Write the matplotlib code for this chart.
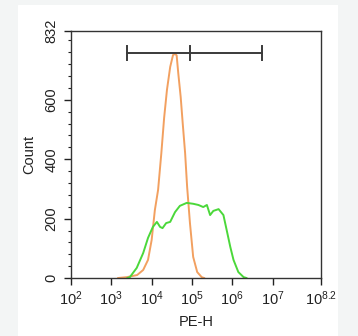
import matplotlib
matplotlib.use("Agg")
import matplotlib.pyplot as plt
import numpy as np
from matplotlib.ticker import FixedLocator, MultipleLocator, LogLocator, NullFormatter

plt.rcParams['font.family'] = ['Liberation Sans', 'DejaVu Sans']
plt.rcParams['mathtext.fontset'] = 'custom'
plt.rcParams['mathtext.rm'] = 'Liberation Sans'
plt.rcParams['mathtext.it'] = 'Liberation Sans'
plt.rcParams['mathtext.default'] = 'rm'

# log10(PE-H) positions and counts
orange_logx = [3.17, 3.39, 3.64, 3.79, 3.91, 4.00, 4.08, 4.16, 4.24, 4.31, 4.38, 4.46,
               4.53, 4.58, 4.62, 4.66, 4.72, 4.77, 4.83, 4.88, 4.95, 5.03, 5.13, 5.24, 5.30]
orange_count = [0, 3, 10, 27, 61, 128, 229, 297, 420, 540, 634, 711,
                751, 755, 750, 690, 610, 522, 421, 307, 185, 71, 20, 3, 0]

green_logx = [3.40, 3.46, 3.63, 3.79, 3.91, 4.03, 4.13, 4.21, 4.27, 4.36, 4.46, 4.58, 4.70,
              4.87, 5.03, 5.16, 5.28, 5.37, 5.45, 5.53, 5.66, 5.78, 5.86, 5.95, 6.03,
              6.15, 6.28, 6.35]
green_count = [0, 3, 34, 84, 135, 172, 189, 172, 168, 185, 189, 222, 243,
               253, 250, 246, 239, 246, 212, 226, 232, 212, 162, 105, 61,
               20, 3, 0]

# gate marker: left, middle, right (log10) and its height in counts
gate_logx = [3.39, 4.95, 6.74]
gate_y = 758

ytick_vals = [0, 200, 400, 600, 832]
xtick_exps = [2, 3, 4, 5, 6, 7, 8.2]

fig = plt.figure(figsize=(3.58, 3.36), dpi=100)
fig.patch.set_facecolor('#f3f5f5')

# white panel behind the plot
bg = fig.add_axes([18 / 358, 0, 320 / 358, 331 / 336], zorder=-1)
bg.axis('off')
bg.add_patch(plt.Rectangle((0, 0), 1, 1, transform=bg.transAxes, color='white'))

ax = fig.add_axes([71 / 358, 58 / 336, 250 / 358, 247 / 336])
ax.set_facecolor('white')

ax.plot(10 ** np.array(orange_logx), orange_count, color='#f2a060', lw=1.4)
ax.plot(10 ** np.array(green_logx), green_count, color='#4bd83a', lw=1.4)

gx = 10 ** np.array(gate_logx)
ax.plot([gx[0], gx[-1]], [gate_y, gate_y], color='#3a3a3a', lw=1.4)
for x in gx:
    ax.plot([x, x], [gate_y - 24, gate_y + 24], color='#3a3a3a', lw=1.4)

ax.set_xscale('log')
ax.set_xlim(10 ** 2, 10 ** 8.2)
ax.set_ylim(0, 832)

ax.xaxis.set_major_locator(FixedLocator([10 ** e for e in xtick_exps]))
ax.set_xticklabels(['$10^{%g}$' % e for e in xtick_exps])
ax.xaxis.set_minor_locator(LogLocator(base=10, subs=np.arange(2, 10)))
ax.xaxis.set_minor_formatter(NullFormatter())

ax.yaxis.set_major_locator(FixedLocator(ytick_vals))
ax.set_yticklabels([str(v) for v in ytick_vals], rotation=90, va='center')
ax.yaxis.set_minor_locator(MultipleLocator(40))

ax.tick_params(which='major', length=5, width=1, labelsize=10.5, color='#222222', labelcolor='#222222')
ax.tick_params(which='minor', length=2.5, width=0.8, color='#222222')
ax.tick_params(axis='x', pad=3)
ax.tick_params(axis='y', pad=4)
for s in ax.spines.values():
    s.set_color('#333333')
    s.set_linewidth(1.0)

ax.set_xlabel('PE-H', fontsize=10.5, color='#222222', labelpad=5)
ax.set_ylabel('Count', fontsize=10.5, color='#222222', labelpad=6)

fig.savefig('out.png', dpi=100, facecolor=fig.get_facecolor())
